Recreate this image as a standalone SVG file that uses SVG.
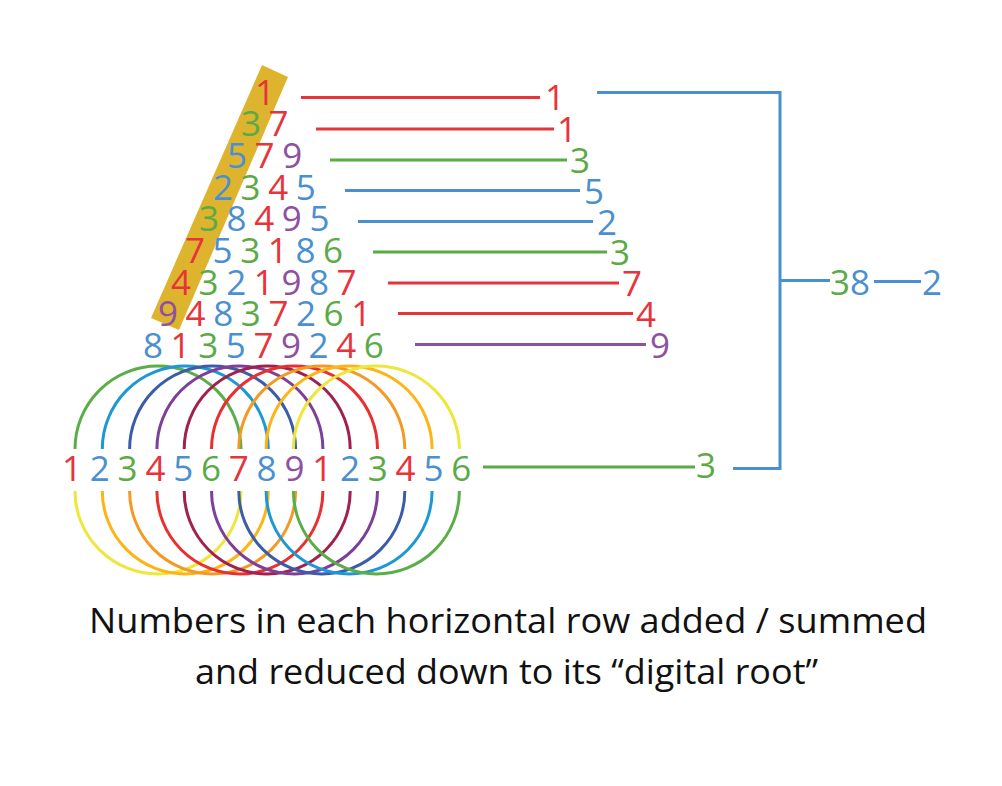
<svg xmlns="http://www.w3.org/2000/svg" width="1002" height="786" viewBox="0 0 1002 786">
<style>
text{font-family:"Open Sans","Noto Sans","Liberation Sans",sans-serif;}
.d{font-size:35px;text-anchor:middle;}
.r{fill:#E7343A}.b{fill:#4A90D0}.g{fill:#5AAA46}.p{fill:#8E50A0}
.ln{stroke-width:3;fill:none}
.lr{stroke:#E7343A}.lb{stroke:#4A90D0}.lg{stroke:#5AAA46}.lp{stroke:#8E50A0}
.arc{fill:none;stroke-width:3}
.cap{font-size:34px;fill:#111;}
</style>
<rect width="1002" height="786" fill="#fff"/>
<g id="band"><polygon points="262,65 288,77 179,330 151,318" fill="#DEB42F"/></g>
<g id="triangle">
<g id="row1"><text class="d r" x="265" y="104.5">1</text></g>
<g id="row2"><text class="d g" x="251" y="136.2">3</text><text class="d r" x="278.6" y="136.2">7</text></g>
<g id="row3"><text class="d b" x="237" y="167.9">5</text><text class="d r" x="264.6" y="167.9">7</text><text class="d p" x="292.2" y="167.9">9</text></g>
<g id="row4"><text class="d b" x="223" y="199.6">2</text><text class="d g" x="250.6" y="199.6">3</text><text class="d r" x="278.2" y="199.6">4</text><text class="d b" x="305.8" y="199.6">5</text></g>
<g id="row5"><text class="d g" x="209" y="231.3">3</text><text class="d b" x="236.6" y="231.3">8</text><text class="d r" x="264.2" y="231.3">4</text><text class="d p" x="291.8" y="231.3">9</text><text class="d b" x="319.4" y="231.3">5</text></g>
<g id="row6"><text class="d r" x="195" y="263">7</text><text class="d b" x="222.6" y="263">5</text><text class="d g" x="250.2" y="263">3</text><text class="d r" x="277.8" y="263">1</text><text class="d b" x="305.4" y="263">8</text><text class="d g" x="333" y="263">6</text></g>
<g id="row7"><text class="d r" x="181" y="294.7">4</text><text class="d g" x="208.6" y="294.7">3</text><text class="d b" x="236.2" y="294.7">2</text><text class="d r" x="263.8" y="294.7">1</text><text class="d p" x="291.4" y="294.7">9</text><text class="d b" x="319" y="294.7">8</text><text class="d r" x="346.6" y="294.7">7</text></g>
<g id="row8"><text class="d p" x="168" y="326.4">9</text><text class="d r" x="195.6" y="326.4">4</text><text class="d b" x="223.2" y="326.4">8</text><text class="d g" x="250.8" y="326.4">3</text><text class="d r" x="278.4" y="326.4">7</text><text class="d b" x="306" y="326.4">2</text><text class="d g" x="333.6" y="326.4">6</text><text class="d r" x="361.2" y="326.4">1</text></g>
<g id="row9"><text class="d b" x="153" y="358.1">8</text><text class="d r" x="180.6" y="358.1">1</text><text class="d g" x="208.2" y="358.1">3</text><text class="d b" x="235.8" y="358.1">5</text><text class="d r" x="263.4" y="358.1">7</text><text class="d p" x="291" y="358.1">9</text><text class="d b" x="318.6" y="358.1">2</text><text class="d r" x="346.2" y="358.1">4</text><text class="d g" x="373.8" y="358.1">6</text></g>
</g>
<g id="circles">
<path class="arc" stroke="#5BAE47" d="M75,449 A83,83 0 0 1 241,449"/>
<path class="arc" stroke="#1D98D5" d="M102.3,449 A83,83 0 0 1 268.3,449"/>
<path class="arc" stroke="#3B5DA9" d="M129.6,449 A83,83 0 0 1 295.6,449"/>
<path class="arc" stroke="#7D3F98" d="M156.9,449 A83,83 0 0 1 322.9,449"/>
<path class="arc" stroke="#A0204F" d="M184.2,449 A83,83 0 0 1 350.2,449"/>
<path class="arc" stroke="#E8312F" d="M211.5,449 A83,83 0 0 1 377.5,449"/>
<path class="arc" stroke="#F39A24" d="M238.8,449 A83,83 0 0 1 404.8,449"/>
<path class="arc" stroke="#FDB515" d="M266.1,449 A83,83 0 0 1 432.1,449"/>
<path class="arc" stroke="#EEE63A" d="M293.4,449 A83,83 0 0 1 459.4,449"/>
<path class="arc" stroke="#EEE63A" d="M75,491 A83,83 0 0 0 241,491"/>
<path class="arc" stroke="#FDB515" d="M102.3,491 A83,83 0 0 0 268.3,491"/>
<path class="arc" stroke="#F39A24" d="M129.6,491 A83,83 0 0 0 295.6,491"/>
<path class="arc" stroke="#E8312F" d="M156.9,491 A83,83 0 0 0 322.9,491"/>
<path class="arc" stroke="#A0204F" d="M184.2,491 A83,83 0 0 0 350.2,491"/>
<path class="arc" stroke="#7D3F98" d="M211.5,491 A83,83 0 0 0 377.5,491"/>
<path class="arc" stroke="#3B5DA9" d="M238.8,491 A83,83 0 0 0 404.8,491"/>
<path class="arc" stroke="#1D98D5" d="M266.1,491 A83,83 0 0 0 432.1,491"/>
<path class="arc" stroke="#5BAE47" d="M293.4,491 A83,83 0 0 0 459.4,491"/>
</g>
<g id="bottomrow">
<text class="d r" x="72" y="481">1</text><text class="d b" x="99.8" y="481">2</text><text class="d g" x="127.6" y="481">3</text><text class="d r" x="155.4" y="481">4</text><text class="d b" x="183.2" y="481">5</text><text class="d g" x="211" y="481">6</text><text class="d r" x="238.8" y="481">7</text><text class="d b" x="266.6" y="481">8</text><text class="d p" x="294.4" y="481">9</text><text class="d r" x="322.2" y="481">1</text><text class="d b" x="350" y="481">2</text><text class="d g" x="377.8" y="481">3</text><text class="d r" x="405.6" y="481">4</text><text class="d b" x="433.4" y="481">5</text><text class="d g" x="461.2" y="481">6</text>
</g>
<g id="connectors">
<line class="ln lr" x1="301" y1="97.5" x2="540" y2="97.5"/>
<line class="ln lr" x1="316" y1="129" x2="554" y2="129"/>
<line class="ln lg" x1="330" y1="160" x2="567" y2="160"/>
<line class="ln lb" x1="345" y1="190.5" x2="580" y2="190.5"/>
<line class="ln lb" x1="358" y1="221.5" x2="593" y2="221.5"/>
<line class="ln lg" x1="373" y1="252" x2="607" y2="252"/>
<line class="ln lr" x1="388" y1="283" x2="619" y2="283"/>
<line class="ln lr" x1="398" y1="313.5" x2="633" y2="313.5"/>
<line class="ln lp" x1="415" y1="344.5" x2="646" y2="344.5"/>
<line class="ln lg" x1="483" y1="467" x2="695" y2="467"/>
<polyline class="ln lb" points="597,92.5 780,92.5 780,468.5 733,468.5"/>
<line class="ln lb" x1="780" y1="280.5" x2="830" y2="280.5"/>
<line class="ln lb" x1="874" y1="281.5" x2="921" y2="281.5"/>
</g>
<g id="results">
<text class="d r" x="555" y="110">1</text>
<text class="d r" x="567" y="142">1</text>
<text class="d g" x="580" y="173">3</text>
<text class="d b" x="594" y="203.5">5</text>
<text class="d b" x="607" y="234.5">2</text>
<text class="d g" x="620" y="265">3</text>
<text class="d r" x="632" y="296">7</text>
<text class="d r" x="646" y="326.5">4</text>
<text class="d p" x="660" y="357.5">9</text>
<text class="d g" x="706" y="478">3</text>
</g>
<g id="total">
<text class="d" x="850" y="295"><tspan class="g">3</tspan><tspan class="b">8</tspan></text>
<text class="d b" x="932" y="295">2</text>
</g>
<g id="caption">
<text class="cap" x="89" y="633" textLength="838" lengthAdjust="spacingAndGlyphs">Numbers in each horizontal row added / summed</text>
<text class="cap" x="195" y="684" textLength="623" lengthAdjust="spacingAndGlyphs">and reduced down to its “digital root”</text>
</g>
</svg>
